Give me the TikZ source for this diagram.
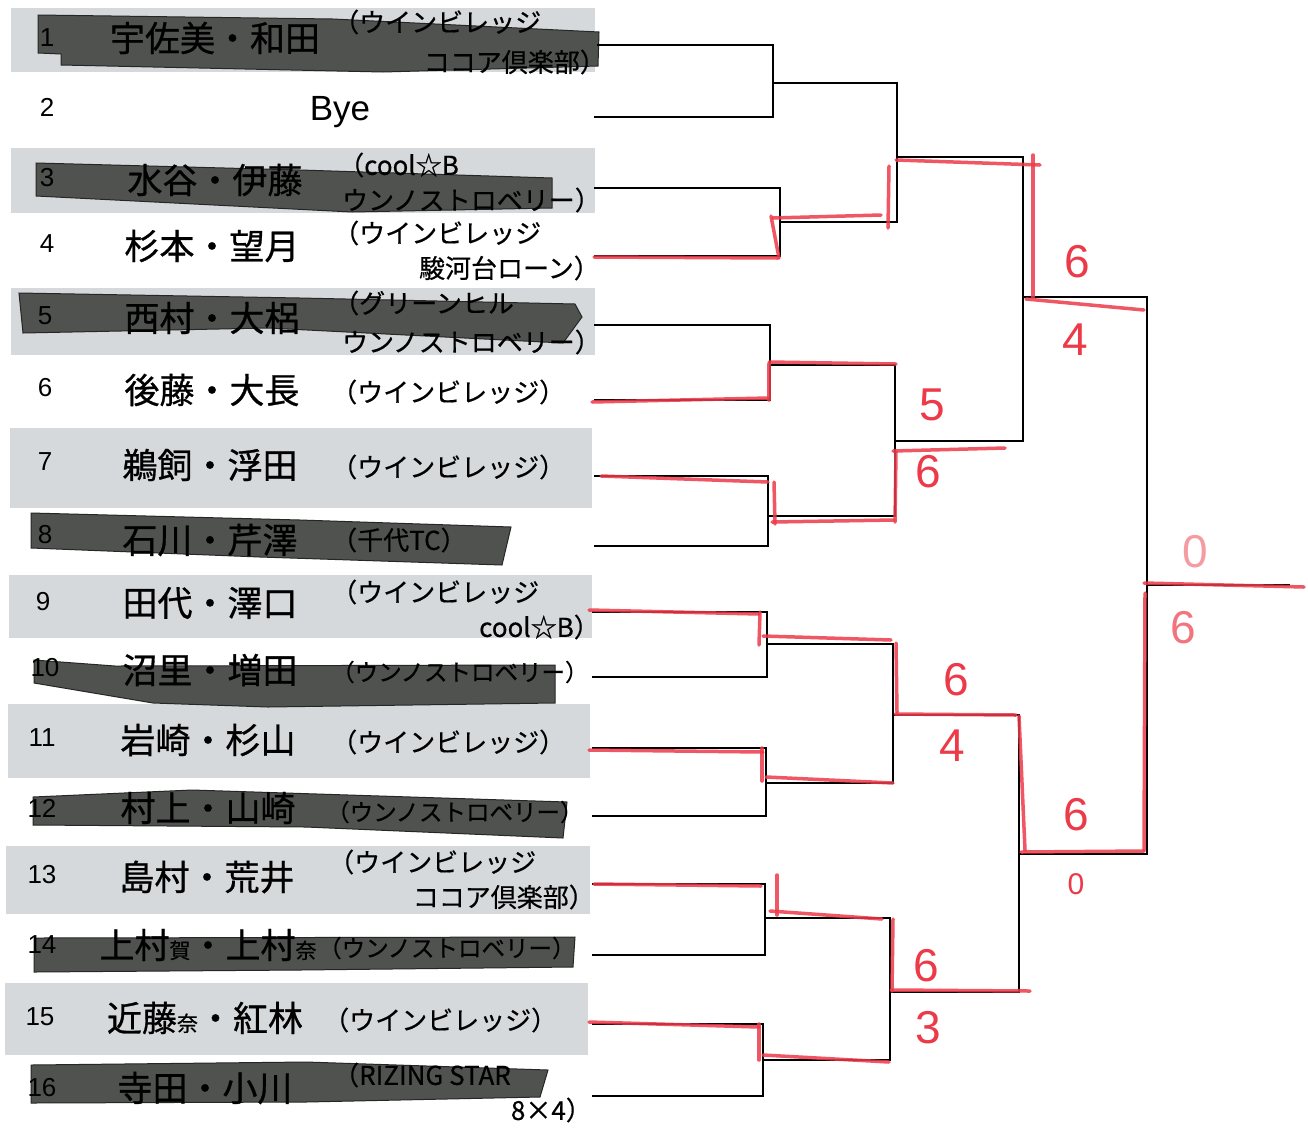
\documentclass[tikz,border=0pt]{standalone}
\usepackage{fontspec}
\setmainfont{Liberation Sans}
\newfontfamily\jp[FakeBold=0.8]{Noto Sans CJK JP}
\newfontfamily\jpt[FakeBold=0.5]{Noto Sans CJK JP}
\definecolor{band}{RGB}{214,217,219}
\definecolor{marker}{RGB}{80,82,80}
\definecolor{pen}{RGB}{236,58,72}
\begin{document}
\begin{tikzpicture}[x=1pt,y=-1pt,
  num/.style={font=\fontsize{26}{26}\selectfont, inner sep=0pt},
  nm/.style={font=\jp\fontsize{35}{35}\selectfont, inner sep=0pt},
  tw/.style={font=\jpt\fontsize{26}{26}\selectfont, inner sep=0pt, anchor=west},
  tn/.style={font=\jpt\fontsize{23.5}{23.5}\selectfont, inner sep=0pt, anchor=west},
  te/.style={font=\jpt\fontsize{26}{26}\selectfont, inner sep=0pt, anchor=east},
  br/.style={line width=2.4pt, draw=black},
  penl/.style={line width=3.5pt, draw=pen, opacity=.85, line cap=round},
  score/.style={text=pen, font=\fontsize{46}{46}\selectfont, inner sep=0pt},
  mk/.style={fill=marker, draw=black!85, line width=1pt},
  bandbox/.style={fill=band, draw=none}]
\useasboundingbox (0,0) rectangle (1308,1128);
\fill[white] (0,0) rectangle (1308,1128);
\newcommand{\sm}[1]{{\fontsize{21}{21}\selectfont #1}}
% gray bands
\path[bandbox] (11,8) rectangle (595,72);
\path[bandbox] (11,148) rectangle (595,213);
\path[bandbox] (11,288) rectangle (595,355);
\path[bandbox] (10,428) rectangle (592,508);
\path[bandbox] (9,575) rectangle (592,638);
\path[bandbox] (8,704) rectangle (590,778);
\path[bandbox] (6,846) rectangle (590,914);
\path[bandbox] (5,983) rectangle (588,1055);
% marker strokes
\path[mk] (38,15) -- (333,19) -- (599,32) -- (598,66) -- (383,72) -- (61,65) -- (61,54) -- (38,53) -- cycle;
\path[mk] (36,163) -- (300,170) -- (552,178) -- (552,208) -- (352,212) -- (36,196) -- cycle;
\path[mk] (19,293) -- (300,298) -- (575,304) -- (582,317) -- (563,343) -- (268,328) -- (23,333) -- cycle;
\path[mk] (31,513) -- (300,520) -- (511,527) -- (502,565) -- (260,557) -- (31,548) -- cycle;
\path[mk] (34,660) -- (115,666) -- (555,665) -- (555,703) -- (268,707) -- (153,703) -- (34,683) -- cycle;
\path[mk] (33,797) -- (192,790) -- (567,802) -- (563,838) -- (306,827) -- (33,825) -- cycle;
\path[mk] (34,938) -- (575,937) -- (573,967) -- (300,970) -- (34,972) -- cycle;
\path[mk] (31,1065) -- (306,1062) -- (548,1070) -- (540,1097) -- (306,1102) -- (31,1103) -- cycle;
% texts
\node[num] (n1) at (47,38) {1};
\node[nm] (a1) at (215,38) {宇佐美・和田};
\node[tw] (b1) at (333,22) {（ウインビレッジ};
\node[te] (c1) at (606,62) {ココア倶楽部）};
\node[num] (n2) at (47,107) {2};
\node[font=\fontsize{35}{35}\selectfont, inner sep=0pt] (a2) at (340,112) {Bye};
\node[num] (n3) at (47,178) {3};
\node[nm] (a3) at (215,180) {水谷・伊藤};
\node[tw] (b3) at (338,165) {（cool☆B};
\node[te] (c3) at (601,200) {ウンノストロベリー）};
\node[num] (n4) at (47,244) {4};
\node[nm] (a4) at (212,246) {杉本・望月};
\node[tw] (b4) at (333,233) {（ウインビレッジ};
\node[te] (c4) at (600,268) {駿河台ローン）};
\node[num] (n5) at (45,316) {5};
\node[nm] (a5) at (212,318) {西村・大梠};
\node[tw] (b5) at (333,303) {（グリーンヒル};
\node[te] (c5) at (601,342) {ウンノストロベリー）};
\node[num] (n6) at (45,388) {6};
\node[nm] (a6) at (212,390) {後藤・大長};
\node[tw] (b6) at (331,392) {（ウインビレッジ）};
\node[num] (n7) at (45,462) {7};
\node[nm] (a7) at (210,465) {鵜飼・浮田};
\node[tw] (b7) at (331,467) {（ウインビレッジ）};
\node[num] (n8) at (45,535) {8};
\node[nm] (a8) at (210,540) {石川・芹澤};
\node[tw] (b8) at (331,540) {（千代TC）};
\node[num] (n9) at (43,602) {9};
\node[nm] (a9) at (210,603) {田代・澤口};
\node[tw] (b9) at (331,592) {（ウインビレッジ};
\node[te] (c9) at (600,627) {cool☆B）};
\node[num] (n10) at (45,668) {10};
\node[nm] (a10) at (210,670) {沼里・増田};
\node[tn] (b10) at (331,672) {（ウンノストロベリー）};
\node[num] (n11) at (42,738) {11};
\node[nm] (a11) at (208,740) {岩崎・杉山};
\node[tw] (b11) at (331,742) {（ウインビレッジ）};
\node[num] (n12) at (42,808) {12};
\node[nm] (a12) at (208,808) {村上・山崎};
\node[tn] (b12) at (326,812) {（ウンノストロベリー）};
\node[num] (n13) at (42,875) {13};
\node[nm] (a13) at (207,877) {島村・荒井};
\node[tw] (b13) at (328,862) {（ウインビレッジ};
\node[te] (c13) at (595,897) {ココア倶楽部）};
\node[num] (n14) at (42,945) {14};
\node[nm] (a14) at (208,945) {上村\sm{賀}・上村\sm{奈}};
\node[tn] (b14) at (318,948) {（ウンノストロベリー）};
\node[num] (n15) at (40,1017) {15};
\node[nm] (a15) at (205,1018) {近藤\sm{奈}・紅林};
\node[tw] (b15) at (323,1020) {（ウインビレッジ）};
\node[num] (n16) at (42,1088) {16};
\node[nm] (a16) at (205,1088) {寺田・小川};
\node[tw] (b16) at (333,1075) {（RIZING STAR};
\node[te] (c16) at (592,1110) {8×4）};
% bracket coordinates
\coordinate (r1) at (597,45);  \coordinate (r2) at (594,117);
\coordinate (r3) at (594,188); \coordinate (r4) at (594,256);
\coordinate (r5) at (594,325); \coordinate (r6) at (594,400);
\coordinate (r7) at (594,476); \coordinate (r8) at (594,546);
\coordinate (r9) at (592,612); \coordinate (r10) at (592,677);
\coordinate (r11) at (592,748); \coordinate (r12) at (592,816);
\coordinate (r13) at (592,884); \coordinate (r14) at (592,955);
\coordinate (r15) at (592,1024); \coordinate (r16) at (592,1096);
\coordinate (q1) at (773,83);  \coordinate (q2) at (780,222);
\coordinate (q3) at (770,365); \coordinate (q4) at (768,516);
\coordinate (q5) at (767,644); \coordinate (q6) at (766,783);
\coordinate (q7) at (765,918); \coordinate (q8) at (763,1060);
\coordinate (p1) at (897,157); \coordinate (p2) at (895,441);
\coordinate (p3) at (893,715); \coordinate (p4) at (890,992);
\coordinate (s1) at (1023,297); \coordinate (s2) at (1019,854);
\coordinate (f) at (1147,585); \coordinate (champ) at (1290,585);
% bracket lines
\draw[br] (r1) -| (q1) |- (r2);
\draw[br] (r3) -| (q2) |- (r4);
\draw[br] (r5) -| (q3) |- (r6);
\draw[br] (r7) -| (q4) |- (r8);
\draw[br] (r9) -| (q5) |- (r10);
\draw[br] (r11) -| (q6) |- (r12);
\draw[br] (r13) -| (q7) |- (r14);
\draw[br] (r15) -| (q8) |- (r16);
\draw[br] (q1) -| (p1) |- (q2);
\draw[br] (q3) -| (p2) |- (q4);
\draw[br] (q5) -| (p3) |- (q6);
\draw[br] (q7) -| (p4) |- (q8);
\draw[br] (p1) -| (s1) |- (p2);
\draw[br] (p3) -| (s2) |- (p4);
\draw[br] (s1) -| (f) |- (s2);
\draw[br] (f) -- (champ);
% red pen marks
\draw[penl] (594,257) -- (778,258);
\draw[penl] (771,216) -- (779,258);
\draw[penl] (773,218) -- (881,215);
\draw[penl] (889,166) -- (888,228);
\draw[penl] (896,160) -- (1040,165);
\draw[penl] (1033,155) -- (1033,297);
\draw[penl] (1026,299) -- (1144,310);
\draw[penl] (592,402) -- (768,398);
\draw[penl] (769,364) -- (769,400);
\draw[penl] (769,362) -- (896,364);
\draw[penl] (893,451) -- (1005,448);
\draw[penl] (896,452) -- (895,522);
\draw[penl] (601,476) -- (768,482);
\draw[penl] (774,482) -- (775,524);
\draw[penl] (772,522) -- (894,520);
\draw[penl] (589,610) -- (759,614);
\draw[penl] (760,612) -- (759,645);
\draw[penl] (763,636) -- (891,640);
\draw[penl] (896,643) -- (897,712);
\draw[penl] (895,714) -- (1016,715);
\draw[penl] (1019,716) -- (1025,850);
\draw[penl] (1021,852) -- (1144,851);
\draw[penl] (1145,593) -- (1144,850);
\draw[penl] (1144,583) -- (1304,587);
\draw[penl] (589,750) -- (763,752);
\draw[penl] (762,748) -- (762,781);
\draw[penl] (766,777) -- (893,783);
\draw[penl] (594,884) -- (761,886);
\draw[penl] (777,875) -- (777,915);
\draw[penl] (770,911) -- (882,919);
\draw[penl] (893,919) -- (892,991);
\draw[penl] (891,990) -- (1030,991);
\draw[penl] (589,1022) -- (759,1027);
\draw[penl] (759,1024) -- (759,1060);
\draw[penl] (763,1055) -- (889,1062);
% scores
\node[score] (t1) at (1077,262) {6};
\node[score] (t2) at (1075,340) {4};
\node[score] (t3) at (932,405) {5};
\node[score] (t4) at (928,472) {6};
\node[score] (t5) at (956,680) {6};
\node[score] (t6) at (952,746) {4};
\node[score] (t7) at (1076,815) {6};
\node[score, font=\fontsize{30}{30}\selectfont] (t8) at (1076,884) {0};
\node[score] (t9) at (926,966) {6};
\node[score] (t10) at (928,1028) {3};
\node[score, opacity=.5] (t11) at (1195,552) {0};
\node[score, opacity=.7] (t12) at (1183,628) {6};
\end{tikzpicture}
\end{document}
